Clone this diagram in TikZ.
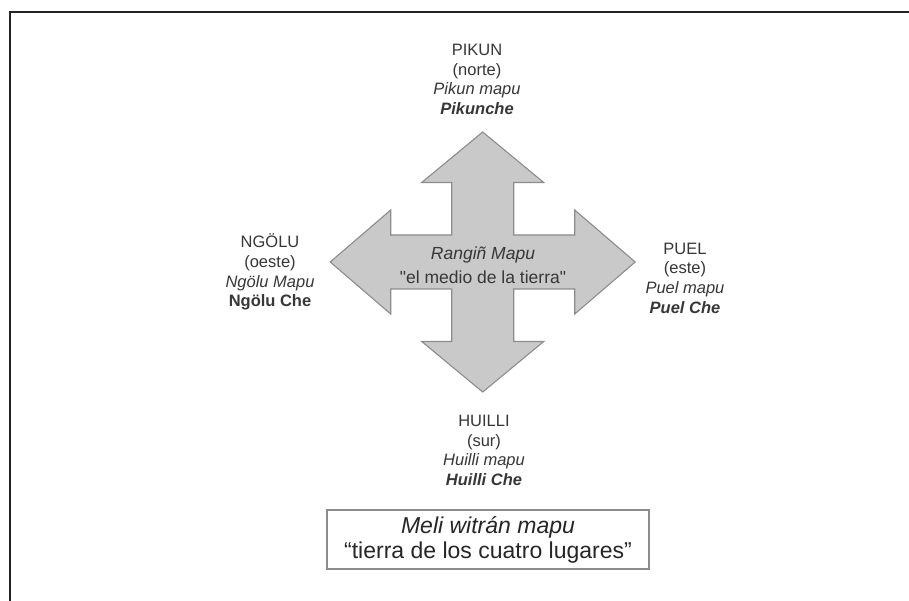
\documentclass[tikz,border=0pt]{standalone}
\usepackage{fontspec}
\setmainfont{Liberation Sans}
\definecolor{crossfill}{RGB}{201,201,201}
\definecolor{crossline}{RGB}{140,140,140}
\definecolor{labeltxt}{RGB}{55,55,55}
\definecolor{framecol}{RGB}{35,35,35}
\definecolor{boxline}{RGB}{140,140,140}
\tikzset{
  lbl/.style={align=center, text=labeltxt, inner sep=0pt,
    font=\fontsize{16.5}{19.7}\selectfont},
  centretxt/.style={align=center, text=labeltxt, inner sep=0pt,
    font=\fontsize{17.5}{24}\selectfont},
  legendbox/.style={draw=boxline, line width=1.3pt, minimum width=322pt,
    minimum height=59pt, align=center, inner sep=0pt, text=black!85,
    font=\fontsize{23}{25}\selectfont},
  crossshape/.style={fill=crossfill, draw=crossline, line width=1.1pt, line join=miter}
}
\begin{document}
\begin{tikzpicture}[x=1pt,y=-1pt]
\useasboundingbox (0,0) rectangle (909,601);
\fill[white] (0,0) rectangle (909,601);
% frame (top and left)
\draw[framecol, line width=2.6pt] (10,601) -- (10,12) -- (909,12);
% cross
\begin{scope}[shift={(482.7,262)}]
\draw[crossshape] (0,-130) -- (61,-79.5) -- (31,-79.5) -- (31,-27) -- (92,-27) -- (92,-52)
 -- (152.5,0) -- (92,52) -- (92,27) -- (31,27) -- (31,79.5) -- (61,79.5) -- (0,130)
 -- (-61,79.5) -- (-31,79.5) -- (-31,27) -- (-92,27) -- (-92,52) -- (-152.5,0)
 -- (-92,-52) -- (-92,-27) -- (-31,-27) -- (-31,-79.5) -- (-61,-79.5) -- cycle;
\end{scope}
\node[centretxt] (centre) at (483,265) {\textit{Rangiñ Mapu}\\\textquotedbl el medio de la tierra\textquotedbl};
\node[lbl] (north) at (477,79.5) {PIKUN\\(norte)\\\textit{Pikun mapu}\\\textbf{\textit{Pikunche}}};
\node[lbl] (west) at (270,272) {NGÖLU\\(oeste)\\\textit{Ngölu Mapu}\\\textbf{Ngölu Che}};
\node[lbl] (east) at (685,278) {PUEL\\(este)\\\textit{Puel mapu}\\\textbf{\textit{Puel Che}}};
\node[lbl] (south) at (484,450.5) {HUILLI\\(sur)\\\textit{Huilli mapu}\\\textbf{\textit{Huilli Che}}};
\node[legendbox] (legend) at (488,539.5) {\textit{Meli witrán mapu}\\“tierra de los cuatro lugares”};
\end{tikzpicture}
\end{document}
